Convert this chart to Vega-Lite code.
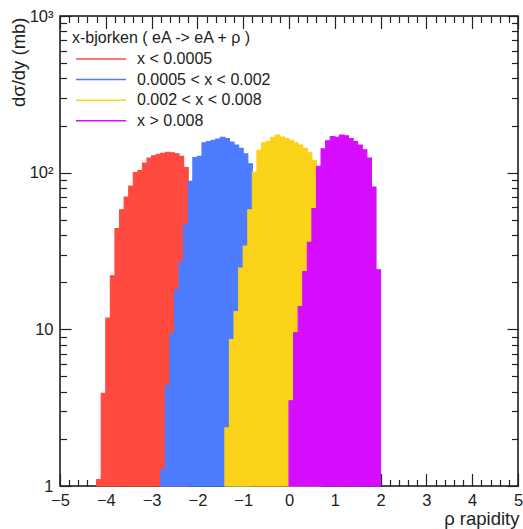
{
  "$schema": "https://vega.github.io/schema/vega-lite/v6.json",
  "width": 458,
  "height": 470,
  "autosize": {"type": "none"},
  "padding": {"left": 60, "top": 16, "right": 5, "bottom": 43},
  "background": "white",
  "config": {
    "view": {"stroke": "#111", "strokeWidth": 1.5},
    "font": "Liberation Sans",
    "axis": {
      "grid": false, "domain": false,
      "labelFont": "Liberation Sans", "titleFont": "Liberation Sans",
      "labelColor": "#222", "titleColor": "#222", "tickColor": "#222",
      "tickWidth": 1.2, "labelFontSize": 16.5, "titleFontSize": 18.5,
      "titleFontWeight": "normal", "labelFlush": false, "labelOverlap": false, "zindex": 1
    },
    "legend": {
      "labelFont": "Liberation Sans", "titleFont": "Liberation Sans",
      "labelFontSize": 16, "titleFontSize": 16, "titleFontWeight": "normal",
      "labelColor": "#222", "titleColor": "#222",
      "symbolType": "M-5,0H5", "symbolSize": 100, "symbolStrokeWidth": 1.5,
      "labelOffset": 28, "padding": 0, "titlePadding": 5, "rowPadding": 4.6
    }
  },
  "data": {
    "values": [
      {"series": "x < 0.0005", "lo": -4.2, "hi": -4.1, "dsdy": 1.1},
      {"series": "x < 0.0005", "lo": -4.1, "hi": -4.0, "dsdy": 3.9},
      {"series": "x < 0.0005", "lo": -4.0, "hi": -3.9, "dsdy": 11.8},
      {"series": "x < 0.0005", "lo": -3.9, "hi": -3.8, "dsdy": 22},
      {"series": "x < 0.0005", "lo": -3.8, "hi": -3.7, "dsdy": 44},
      {"series": "x < 0.0005", "lo": -3.7, "hi": -3.6, "dsdy": 58},
      {"series": "x < 0.0005", "lo": -3.6, "hi": -3.5, "dsdy": 70},
      {"series": "x < 0.0005", "lo": -3.5, "hi": -3.4, "dsdy": 82},
      {"series": "x < 0.0005", "lo": -3.4, "hi": -3.3, "dsdy": 100},
      {"series": "x < 0.0005", "lo": -3.3, "hi": -3.2, "dsdy": 103},
      {"series": "x < 0.0005", "lo": -3.2, "hi": -3.1, "dsdy": 115},
      {"series": "x < 0.0005", "lo": -3.1, "hi": -3.0, "dsdy": 124},
      {"series": "x < 0.0005", "lo": -3.0, "hi": -2.9, "dsdy": 128},
      {"series": "x < 0.0005", "lo": -2.9, "hi": -2.8, "dsdy": 131},
      {"series": "x < 0.0005", "lo": -2.8, "hi": -2.7, "dsdy": 133},
      {"series": "x < 0.0005", "lo": -2.7, "hi": -2.6, "dsdy": 135},
      {"series": "x < 0.0005", "lo": -2.6, "hi": -2.5, "dsdy": 134},
      {"series": "x < 0.0005", "lo": -2.5, "hi": -2.4, "dsdy": 132},
      {"series": "x < 0.0005", "lo": -2.4, "hi": -2.3, "dsdy": 127},
      {"series": "x < 0.0005", "lo": -2.3, "hi": -2.2, "dsdy": 108},
      {"series": "0.0005 < x < 0.002", "lo": -2.8, "hi": -2.7, "dsdy": 1.27},
      {"series": "0.0005 < x < 0.002", "lo": -2.7, "hi": -2.6, "dsdy": 4.4},
      {"series": "0.0005 < x < 0.002", "lo": -2.6, "hi": -2.5, "dsdy": 9.4},
      {"series": "0.0005 < x < 0.002", "lo": -2.5, "hi": -2.4, "dsdy": 17.9},
      {"series": "0.0005 < x < 0.002", "lo": -2.4, "hi": -2.3, "dsdy": 27},
      {"series": "0.0005 < x < 0.002", "lo": -2.3, "hi": -2.2, "dsdy": 46.5},
      {"series": "0.0005 < x < 0.002", "lo": -2.2, "hi": -2.1, "dsdy": 88},
      {"series": "0.0005 < x < 0.002", "lo": -2.1, "hi": -2.0, "dsdy": 125},
      {"series": "0.0005 < x < 0.002", "lo": -2.0, "hi": -1.9, "dsdy": 127},
      {"series": "0.0005 < x < 0.002", "lo": -1.9, "hi": -1.8, "dsdy": 155},
      {"series": "0.0005 < x < 0.002", "lo": -1.8, "hi": -1.7, "dsdy": 158},
      {"series": "0.0005 < x < 0.002", "lo": -1.7, "hi": -1.6, "dsdy": 161},
      {"series": "0.0005 < x < 0.002", "lo": -1.6, "hi": -1.5, "dsdy": 164},
      {"series": "0.0005 < x < 0.002", "lo": -1.5, "hi": -1.4, "dsdy": 168},
      {"series": "0.0005 < x < 0.002", "lo": -1.4, "hi": -1.3, "dsdy": 165},
      {"series": "0.0005 < x < 0.002", "lo": -1.3, "hi": -1.2, "dsdy": 157},
      {"series": "0.0005 < x < 0.002", "lo": -1.2, "hi": -1.1, "dsdy": 150},
      {"series": "0.0005 < x < 0.002", "lo": -1.1, "hi": -1.0, "dsdy": 143},
      {"series": "0.0005 < x < 0.002", "lo": -1.0, "hi": -0.9, "dsdy": 132},
      {"series": "0.0005 < x < 0.002", "lo": -0.9, "hi": -0.8, "dsdy": 114},
      {"series": "0.002 < x < 0.008", "lo": -1.4, "hi": -1.3, "dsdy": 2.35},
      {"series": "0.002 < x < 0.008", "lo": -1.3, "hi": -1.2, "dsdy": 8.6},
      {"series": "0.002 < x < 0.008", "lo": -1.2, "hi": -1.1, "dsdy": 13},
      {"series": "0.002 < x < 0.008", "lo": -1.1, "hi": -1.0, "dsdy": 24.6},
      {"series": "0.002 < x < 0.008", "lo": -1.0, "hi": -0.9, "dsdy": 34},
      {"series": "0.002 < x < 0.008", "lo": -0.9, "hi": -0.8, "dsdy": 58},
      {"series": "0.002 < x < 0.008", "lo": -0.8, "hi": -0.7, "dsdy": 101},
      {"series": "0.002 < x < 0.008", "lo": -0.7, "hi": -0.6, "dsdy": 139},
      {"series": "0.002 < x < 0.008", "lo": -0.6, "hi": -0.5, "dsdy": 155},
      {"series": "0.002 < x < 0.008", "lo": -0.5, "hi": -0.4, "dsdy": 158},
      {"series": "0.002 < x < 0.008", "lo": -0.4, "hi": -0.3, "dsdy": 168},
      {"series": "0.002 < x < 0.008", "lo": -0.3, "hi": -0.2, "dsdy": 174},
      {"series": "0.002 < x < 0.008", "lo": -0.2, "hi": -0.1, "dsdy": 169},
      {"series": "0.002 < x < 0.008", "lo": -0.1, "hi": 0.0, "dsdy": 165},
      {"series": "0.002 < x < 0.008", "lo": 0.0, "hi": 0.1, "dsdy": 161},
      {"series": "0.002 < x < 0.008", "lo": 0.1, "hi": 0.2, "dsdy": 155},
      {"series": "0.002 < x < 0.008", "lo": 0.2, "hi": 0.3, "dsdy": 150},
      {"series": "0.002 < x < 0.008", "lo": 0.3, "hi": 0.4, "dsdy": 143},
      {"series": "0.002 < x < 0.008", "lo": 0.4, "hi": 0.5, "dsdy": 134},
      {"series": "0.002 < x < 0.008", "lo": 0.5, "hi": 0.6, "dsdy": 120},
      {"series": "0.002 < x < 0.008", "lo": 0.6, "hi": 0.7, "dsdy": 104},
      {"series": "x > 0.008", "lo": 0.0, "hi": 0.1, "dsdy": 3.5},
      {"series": "x > 0.008", "lo": 0.1, "hi": 0.2, "dsdy": 9.5},
      {"series": "x > 0.008", "lo": 0.2, "hi": 0.3, "dsdy": 14},
      {"series": "x > 0.008", "lo": 0.3, "hi": 0.4, "dsdy": 23.4},
      {"series": "x > 0.008", "lo": 0.4, "hi": 0.5, "dsdy": 36},
      {"series": "x > 0.008", "lo": 0.5, "hi": 0.6, "dsdy": 59},
      {"series": "x > 0.008", "lo": 0.6, "hi": 0.7, "dsdy": 110},
      {"series": "x > 0.008", "lo": 0.7, "hi": 0.8, "dsdy": 142},
      {"series": "x > 0.008", "lo": 0.8, "hi": 0.9, "dsdy": 160},
      {"series": "x > 0.008", "lo": 0.9, "hi": 1.0, "dsdy": 170},
      {"series": "x > 0.008", "lo": 1.0, "hi": 1.1, "dsdy": 168},
      {"series": "x > 0.008", "lo": 1.1, "hi": 1.2, "dsdy": 174},
      {"series": "x > 0.008", "lo": 1.2, "hi": 1.3, "dsdy": 172},
      {"series": "x > 0.008", "lo": 1.3, "hi": 1.4, "dsdy": 165},
      {"series": "x > 0.008", "lo": 1.4, "hi": 1.5, "dsdy": 158},
      {"series": "x > 0.008", "lo": 1.5, "hi": 1.6, "dsdy": 150},
      {"series": "x > 0.008", "lo": 1.6, "hi": 1.7, "dsdy": 140},
      {"series": "x > 0.008", "lo": 1.7, "hi": 1.8, "dsdy": 124},
      {"series": "x > 0.008", "lo": 1.8, "hi": 1.9, "dsdy": 81},
      {"series": "x > 0.008", "lo": 1.9, "hi": 2.0, "dsdy": 24}
    ]
  },
  "layer": [
    {
      "mark": {"type": "bar", "strokeWidth": 1.1},
      "encoding": {
        "x": {
          "field": "lo", "type": "quantitative",
          "scale": {"domain": [-5, 5], "nice": false, "zero": false},
          "axis": {
            "orient": "bottom", "values": [-5, -4, -3, -2, -1, 0, 1, 2, 3, 4, 5],
            "tickSize": -12.5, "labelPadding": 18.5,
            "title": "ρ rapidity", "titleX": 459, "titleY": 32,
            "titleAlign": "right", "titleBaseline": "middle", "titleAnchor": null
          }
        },
        "x2": {"field": "hi"},
        "y": {
          "field": "dsdy", "type": "quantitative",
          "scale": {"type": "log", "domain": [1, 1000], "nice": false},
          "axis": {
            "orient": "left", "values": [1, 10, 100, 1000],
            "tickSize": -11, "labelPadding": 18, "labelBaseline": "middle",
            "labelExpr": "datum.value == 1000 ? '10³' : datum.value == 100 ? '10²' : datum.value == 10 ? '10' : '1'",
            "title": "dσ/dy (mb)", "titleX": -41.5, "titleY": 1, "titleAngle": -90,
            "titleAlign": "right", "titleBaseline": "middle", "titleAnchor": null
          }
        },
        "y2": {"datum": 1},
        "color": {
          "field": "series", "type": "nominal", "title": "x-bjorken ( eA -> eA + ρ )",
          "scale": {
            "domain": ["x < 0.0005", "0.0005 < x < 0.002", "0.002 < x < 0.008", "x > 0.008"],
            "range": ["#FF4A40", "#4D7CFE", "#FAD31A", "#D60DFF"]
          },
          "legend": {"orient": "none", "legendX": 12, "legendY": 14, "symbolOffset": 21}
        },
        "stroke": {
          "field": "series", "type": "nominal", "title": "x-bjorken ( eA -> eA + ρ )",
          "scale": {
            "domain": ["x < 0.0005", "0.0005 < x < 0.002", "0.002 < x < 0.008", "x > 0.008"],
            "range": ["#FF4A40", "#4D7CFE", "#FAD31A", "#D60DFF"]
          },
          "legend": {"orient": "none", "legendX": 12, "legendY": 14, "symbolOffset": 21}
        }
      }
    },
    {
      "mark": {"type": "point", "opacity": 0},
      "encoding": {
        "x": {
          "field": "lo", "type": "quantitative",
          "axis": {
            "orient": "bottom", "tickSize": -6.5, "labels": false, "title": null,
            "values": [-4.8,-4.6,-4.4,-4.2,-3.8,-3.6,-3.4,-3.2,-2.8,-2.6,-2.4,-2.2,-1.8,-1.6,-1.4,-1.2,-0.8,-0.6,-0.4,-0.2,0.2,0.4,0.6,0.8,1.2,1.4,1.6,1.8,2.2,2.4,2.6,2.8,3.2,3.4,3.6,3.8,4.2,4.4,4.6,4.8]
          }
        },
        "y": {
          "field": "dsdy", "type": "quantitative",
          "axis": {
            "orient": "left", "tickSize": -6.5, "labels": false, "title": null,
            "values": [2,3,4,5,6,7,8,9,20,30,40,50,60,70,80,90,200,300,400,500,600,700,800,900]
          }
        }
      }
    },
    {
      "mark": {"type": "point", "opacity": 0},
      "encoding": {
        "x": {
          "field": "lo", "type": "quantitative",
          "axis": {"orient": "top", "tickSize": -12.5, "labels": false, "title": null, "values": [-5, -4, -3, -2, -1, 0, 1, 2, 3, 4, 5]}
        },
        "y": {
          "field": "dsdy", "type": "quantitative",
          "axis": {"orient": "right", "tickSize": -11, "labels": false, "title": null, "values": [1, 10, 100, 1000]}
        }
      }
    },
    {
      "mark": {"type": "point", "opacity": 0},
      "encoding": {
        "x": {
          "field": "lo", "type": "quantitative",
          "axis": {
            "orient": "top", "tickSize": -6.5, "labels": false, "title": null,
            "values": [-4.8,-4.6,-4.4,-4.2,-3.8,-3.6,-3.4,-3.2,-2.8,-2.6,-2.4,-2.2,-1.8,-1.6,-1.4,-1.2,-0.8,-0.6,-0.4,-0.2,0.2,0.4,0.6,0.8,1.2,1.4,1.6,1.8,2.2,2.4,2.6,2.8,3.2,3.4,3.6,3.8,4.2,4.4,4.6,4.8]
          }
        },
        "y": {
          "field": "dsdy", "type": "quantitative",
          "axis": {
            "orient": "right", "tickSize": -6.5, "labels": false, "title": null,
            "values": [2,3,4,5,6,7,8,9,20,30,40,50,60,70,80,90,200,300,400,500,600,700,800,900]
          }
        }
      }
    }
  ],
  "resolve": {"axis": {"x": "independent", "y": "independent"}}
}
